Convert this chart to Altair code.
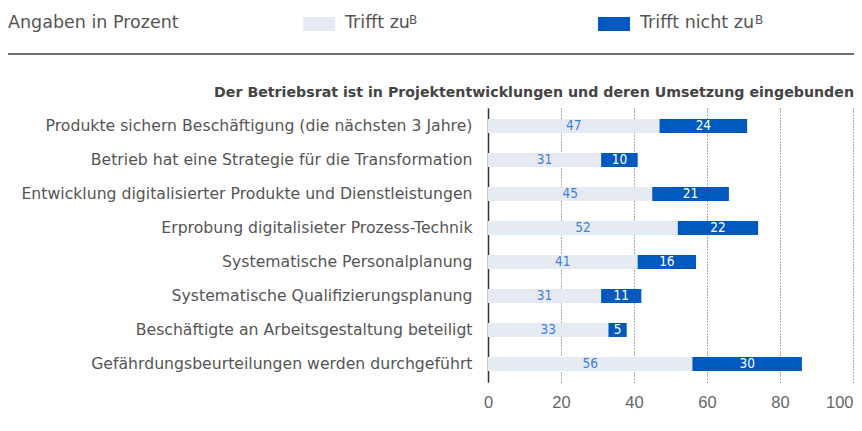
import altair as alt
import pandas as pd

categories = [
    "Produkte sichern Beschäftigung (die nächsten 3 Jahre)",
    "Betrieb hat eine Strategie für die Transformation",
    "Entwicklung digitalisierter Produkte und Dienstleistungen",
    "Erprobung digitalisieter Prozess-Technik",
    "Systematische Personalplanung",
    "Systematische Qualifizierungsplanung",
    "Beschäftigte an Arbeitsgestaltung beteiligt",
    "Gefährdungsbeurteilungen werden durchgeführt",
]
trifft_zu = [47, 31, 45, 52, 41, 31, 33, 56]
trifft_nicht_zu = [24, 10, 21, 22, 16, 11, 5, 30]
x_ticks = [0, 20, 40, 60, 80, 100]

chart_title = "Der Betriebsrat ist in Projektentwicklungen und deren Umsetzung eingebunden"
legend_note = "Angaben in Prozent"
legend_labels = ["Trifft zu", "Trifft nicht zu"]

LIGHT = "#e6eaf3"
DARK = "#0059bf"
FONT = "DejaVu Sans"
TICKFONT = "Liberation Sans"
NUMFONT = "Liberation Sans Narrow, DejaVu Sans Condensed, Roboto"
W, H = 365, 274
L = 480

df = pd.DataFrame({"cat": categories, "zu": trifft_zu, "nicht": trifft_nicht_zu})

ysc = alt.Scale(domain=categories, paddingInner=0.59, paddingOuter=0.325)
xsc = alt.Scale(domain=[0, 100], nice=False)

base = alt.Chart(df).transform_calculate(
    end="datum.zu + datum.nicht",
    mid1="datum.zu / 2",
    mid2="datum.zu + datum.nicht / 2",
)

yenc = alt.Y(
    "cat:N", scale=ysc, sort=categories, title=None,
    axis=alt.Axis(
        labelFont=FONT, labelFontSize=15.7, labelColor="#555555", labelPadding=16,
        ticks=False, domain=True, domainColor="#333333", domainWidth=1.5,
        labelLimit=600,
    ),
)

bar1 = base.mark_bar(color=LIGHT).encode(
    x=alt.X(
        "zu:Q", scale=xsc, title=None,
        axis=alt.Axis(
            values=x_ticks, labelFont=TICKFONT, labelFontSize=16.5, labelColor="#666666",
            labelPadding=12, labelFlush=False,
            labelAlign=alt.condition("datum.value >= 100", alt.value("right"), alt.value("center")),
            ticks=False, domain=False, grid=True,
            gridColor="#555555", gridDash=[1, 2], gridWidth=1,
        ),
    ),
    y=yenc,
)
bar2 = base.mark_bar(color=DARK).encode(
    x=alt.X("zu:Q", scale=xsc), x2="end:Q", y=alt.Y("cat:N", scale=ysc, sort=categories)
)
txt1 = base.mark_text(font=NUMFONT, fontSize=13.5, color="#3f7fd6", baseline="middle").encode(
    x=alt.X("mid1:Q", scale=xsc), y=alt.Y("cat:N", scale=ysc, sort=categories), text="zu:Q"
)
txt2 = base.mark_text(font=NUMFONT, fontSize=13.5, color="white", baseline="middle").encode(
    x=alt.X("mid2:Q", scale=xsc), y=alt.Y("cat:N", scale=ysc, sort=categories), text="nicht:Q"
)

one = alt.Chart(pd.DataFrame({"k": [0]}))

title_mark = one.mark_text(
    text=chart_title, font=FONT, fontSize=14.2, fontWeight="bold", color="#444444",
    align="right", baseline="alphabetic",
).encode(x=alt.value(W + 1), y=alt.value(-11))

note = one.mark_text(
    text=legend_note, font=FONT, fontSize=17.5, color="#555555", align="left", baseline="middle",
).encode(x=alt.value(-L), y=alt.value(-85))

sw1 = one.mark_rect(color=LIGHT).encode(
    x=alt.value(-185), x2=alt.value(-153), y=alt.value(-91), y2=alt.value(-77))
sw2 = one.mark_rect(color=DARK).encode(
    x=alt.value(110), x2=alt.value(142), y=alt.value(-91), y2=alt.value(-77))
lt1 = one.mark_text(
    text=legend_labels[0], font=FONT, fontSize=17.5, color="#555555", align="left", baseline="middle",
).encode(x=alt.value(-143), y=alt.value(-85))
lt2 = one.mark_text(
    text=legend_labels[1], font=FONT, fontSize=17.5, color="#555555", align="left", baseline="middle",
).encode(x=alt.value(152), y=alt.value(-85))
sup1 = one.mark_text(
    text="B", font=FONT, fontSize=12, color="#555555", align="left", baseline="top",
).encode(x=alt.value(-79), y=alt.value(-93))
sup2 = one.mark_text(
    text="B", font=FONT, fontSize=12, color="#555555", align="left", baseline="top",
).encode(x=alt.value(267), y=alt.value(-93))
hline = one.mark_rule(color="#6e6e6e", strokeWidth=2).encode(
    x=alt.value(-L), x2=alt.value(W + 1), y=alt.value(-54))

chart = alt.layer(
    bar1, bar2, txt1, txt2, title_mark, note, sw1, sw2, lt1, lt2, sup1, sup2, hline
).properties(
    width=W, height=H,
    padding={"left": L, "top": 100, "right": 1, "bottom": 40},
    autosize=alt.AutoSizeParams(type="none"),
).configure_view(stroke=None)

chart.save("out.html", embed_options={"renderer": "svg", "actions": False})
